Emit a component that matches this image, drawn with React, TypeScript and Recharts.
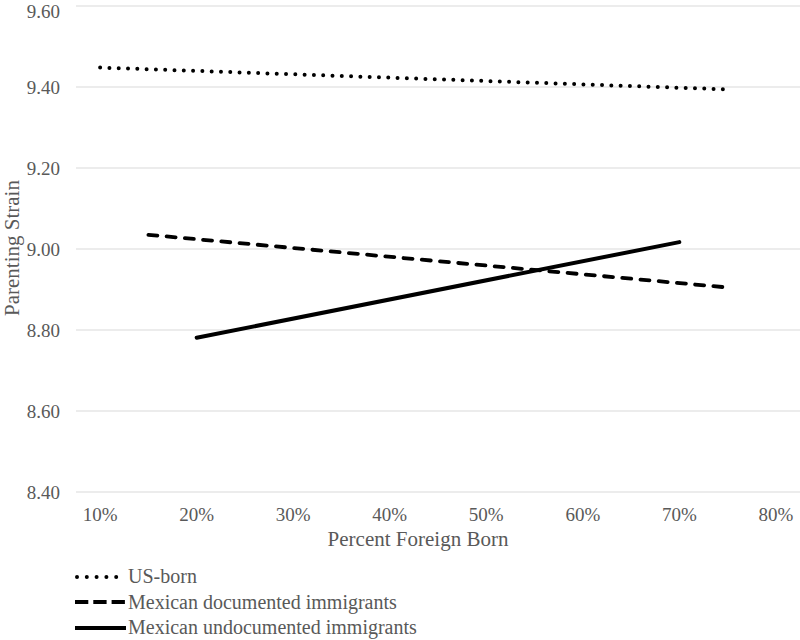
import React from 'react';
import { LineChart, Line, XAxis, YAxis, CartesianGrid, Label } from 'recharts';

// values (x = percent foreign born, y = parenting strain)
const usBornX = [10, 75];
const usBornY = [9.448, 9.394];
const documentedX = [15, 75];
const documentedY = [9.035, 8.905];
const undocumentedX = [20, 70];
const undocumentedY = [8.781, 9.017];

const xTicks = [10, 20, 30, 40, 50, 60, 70, 80];
const yTicks = [8.4, 8.6, 8.8, 9.0, 9.2, 9.4, 9.6];

const FONT = 'Liberation Serif';
const TEXT = '#595959';
const GRID = '#d9d9d9';

const toPoints = (xs: number[], ys: number[]) => xs.map((x, i) => ({ x, y: ys[i] }));

const SERIES = [
  { name: 'US-born', data: toPoints(usBornX, usBornY), dash: '0 9.3', width: 4, legendDash: '0 9.8' },
  { name: 'Mexican documented immigrants', data: toPoints(documentedX, documentedY), dash: '9 9.3', width: 3.8, legendDash: '13.3 5' },
  { name: 'Mexican undocumented immigrants', data: toPoints(undocumentedX, undocumentedY), dash: undefined, width: 4, legendDash: undefined },
];

const ChartLegend = () => (
  <div style={{ position: 'absolute', left: 75, top: 564, fontFamily: FONT, fontSize: 20, color: TEXT }}>
    {SERIES.map((s) => {
      const dotted = !!s.legendDash && s.legendDash.startsWith('0');
      return (
        <div key={s.name} style={{ display: 'flex', alignItems: 'center', height: 25.5, whiteSpace: 'nowrap' }}>
          <svg width={53} height={8} style={{ display: 'block' }}>
            <line
              x1={dotted ? 2 : 0}
              y1={4}
              x2={51}
              y2={4}
              stroke="#000"
              strokeWidth={s.width}
              strokeDasharray={s.legendDash}
              strokeLinecap={dotted ? 'round' : 'butt'}
            />
          </svg>
          <span>{s.name}</span>
        </div>
      );
    })}
  </div>
);

export default function App() {
  return (
    <div style={{ position: 'absolute', left: 0, top: 0, width: 800, height: 640, background: '#fff', fontFamily: FONT }}>
      <LineChart width={800} height={640} margin={{ top: 6, right: 0, bottom: 88, left: 0 }}>
        <CartesianGrid vertical={false} stroke={GRID} strokeWidth={1} />
        <XAxis
          type="number"
          dataKey="x"
          domain={[7.5, 82.5]}
          ticks={xTicks}
          tickFormatter={(v: number) => `${v}%`}
          axisLine={false}
          tickLine={false}
          tickSize={0}
          tickMargin={16}
          height={60}
          tick={{ fill: TEXT, fontSize: 19, fontFamily: FONT }}
          allowDataOverflow
        >
          <Label
            content={() => (
              <text x={418} y={546} textAnchor="middle" fill={TEXT} fontSize={21} fontFamily={FONT}>
                Percent Foreign Born
              </text>
            )}
          />
        </XAxis>
        <YAxis
          type="number"
          domain={[8.4, 9.6]}
          ticks={yTicks}
          tickFormatter={(v: number) => v.toFixed(2)}
          axisLine={false}
          tickLine={false}
          tickSize={0}
          tickMargin={16}
          width={76}
          tick={{ fill: TEXT, fontSize: 19, fontFamily: FONT }}
          allowDataOverflow
        >
          <Label
            content={(props: any) => {
              const vb = props.viewBox || { y: 6, height: 486 };
              const cy = vb.y + vb.height / 2 - 1;
              return (
                <text
                  x={12}
                  y={cy}
                  transform={`rotate(-90 12 ${cy})`}
                  textAnchor="middle"
                  dominantBaseline="central"
                  fill={TEXT}
                  fontSize={21}
                  fontFamily={FONT}
                >
                  Parenting Strain
                </text>
              );
            }}
          />
        </YAxis>
        {SERIES.map((s) => (
          <Line
            key={s.name}
            data={s.data}
            dataKey="y"
            name={s.name}
            type="linear"
            stroke="#000"
            strokeWidth={s.width}
            strokeDasharray={s.dash}
            strokeLinecap="round"
            dot={false}
            activeDot={false}
            isAnimationActive={false}
          />
        ))}
      </LineChart>
      <ChartLegend />
    </div>
  );
}
